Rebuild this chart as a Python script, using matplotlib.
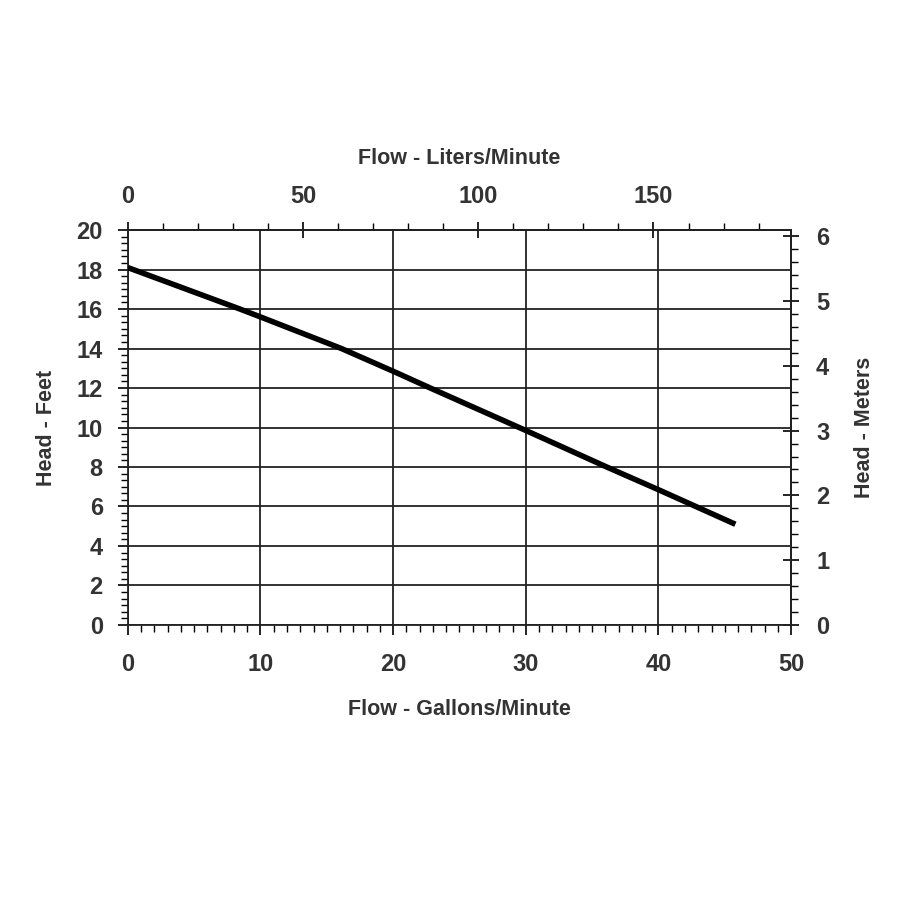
import matplotlib
matplotlib.use("Agg")
import matplotlib.pyplot as plt
from matplotlib.ticker import MultipleLocator

plt.rcParams['font.family'] = ['Liberation Sans', 'DejaVu Sans']
tickfont = ['Liberation Sans Narrow', 'Liberation Sans', 'DejaVu Sans']

# pump curve
flow_gpm = [0, 8.45, 10, 16.1, 20, 22.8, 30, 36.1, 40, 45.8]
head_ft = [18.1, 16.0, 15.6, 14.0, 12.85, 12.0, 9.85, 8.0, 6.85, 5.1]

gpm_ticks = [0, 10, 20, 30, 40, 50]
ft_ticks = [0, 2, 4, 6, 8, 10, 12, 14, 16, 18, 20]
lpm_ticks = [0, 50, 100, 150]
m_ticks = [0, 1, 2, 3, 4, 5, 6]

txt = '#333333'
fig = plt.figure(figsize=(9, 9), dpi=100)
ax = fig.add_axes([0.142, 0.3056, 0.737, 0.4388])

ax.plot(flow_gpm, head_ft, color='black', lw=4.0, solid_capstyle='butt', zorder=3)

ax.set_xlim(0, 50)
ax.set_ylim(0, 20)
ax.set_xticks(gpm_ticks)
ax.set_yticks(ft_ticks)
ax.xaxis.set_minor_locator(MultipleLocator(1))
ax.yaxis.set_minor_locator(MultipleLocator(1 / 3))
ax.grid(True, which='major', color='#222222', lw=1.3)
for s in ax.spines.values():
    s.set_linewidth(1.3)
    s.set_color('#222222')

ax.tick_params(which='major', direction='out', length=7, width=1.2, labelsize=17,
               labelcolor=txt)
ax.tick_params(axis='x', which='major', pad=13)
ax.tick_params(axis='y', which='major', pad=11)
ax.tick_params(which='minor', direction='out', length=5, width=1.0)
for lab in ax.get_xticklabels() + ax.get_yticklabels():
    lab.set_fontweight('bold')
    lab.set_family(tickfont)

ax.set_xlabel('Flow - Gallons/Minute', fontsize=15.5, fontweight='bold', color=txt, labelpad=17)
ax.set_ylabel('Head - Feet', fontsize=15.5, fontweight='bold', color=txt, labelpad=14)

# liters per minute on top
top = ax.secondary_xaxis('top', functions=(lambda g: g * 3.78541, lambda l: l / 3.78541))
top.set_xticks(lpm_ticks)
top.xaxis.set_minor_locator(MultipleLocator(10))
top.tick_params(which='major', direction='inout', length=12, width=1.2, labelsize=17,
                labelcolor=txt, pad=10)
top.tick_params(which='minor', direction='out', length=5, width=1.0)
for lab in top.get_xticklabels():
    lab.set_fontweight('bold')
    lab.set_family(tickfont)
top.set_xlabel('Flow - Liters/Minute', fontsize=15.5, fontweight='bold', color=txt, labelpad=15)
top.spines['top'].set_linewidth(1.3)

# meters on the right
right = ax.secondary_yaxis('right', functions=(lambda f: f * 0.3048, lambda m: m / 0.3048))
right.set_yticks(m_ticks)
right.yaxis.set_minor_locator(MultipleLocator(0.2))
right.tick_params(which='major', direction='inout', length=12, width=1.2, labelsize=17,
                  labelcolor=txt, pad=12)
right.tick_params(which='minor', direction='out', length=5, width=1.0)
for lab in right.get_yticklabels():
    lab.set_fontweight('bold')
    lab.set_family(tickfont)
right.set_ylabel('Head - Meters', fontsize=15.5, fontweight='bold', color=txt, labelpad=18)
right.spines['right'].set_linewidth(1.3)

fig.savefig('out.png', dpi=100, facecolor='white')
